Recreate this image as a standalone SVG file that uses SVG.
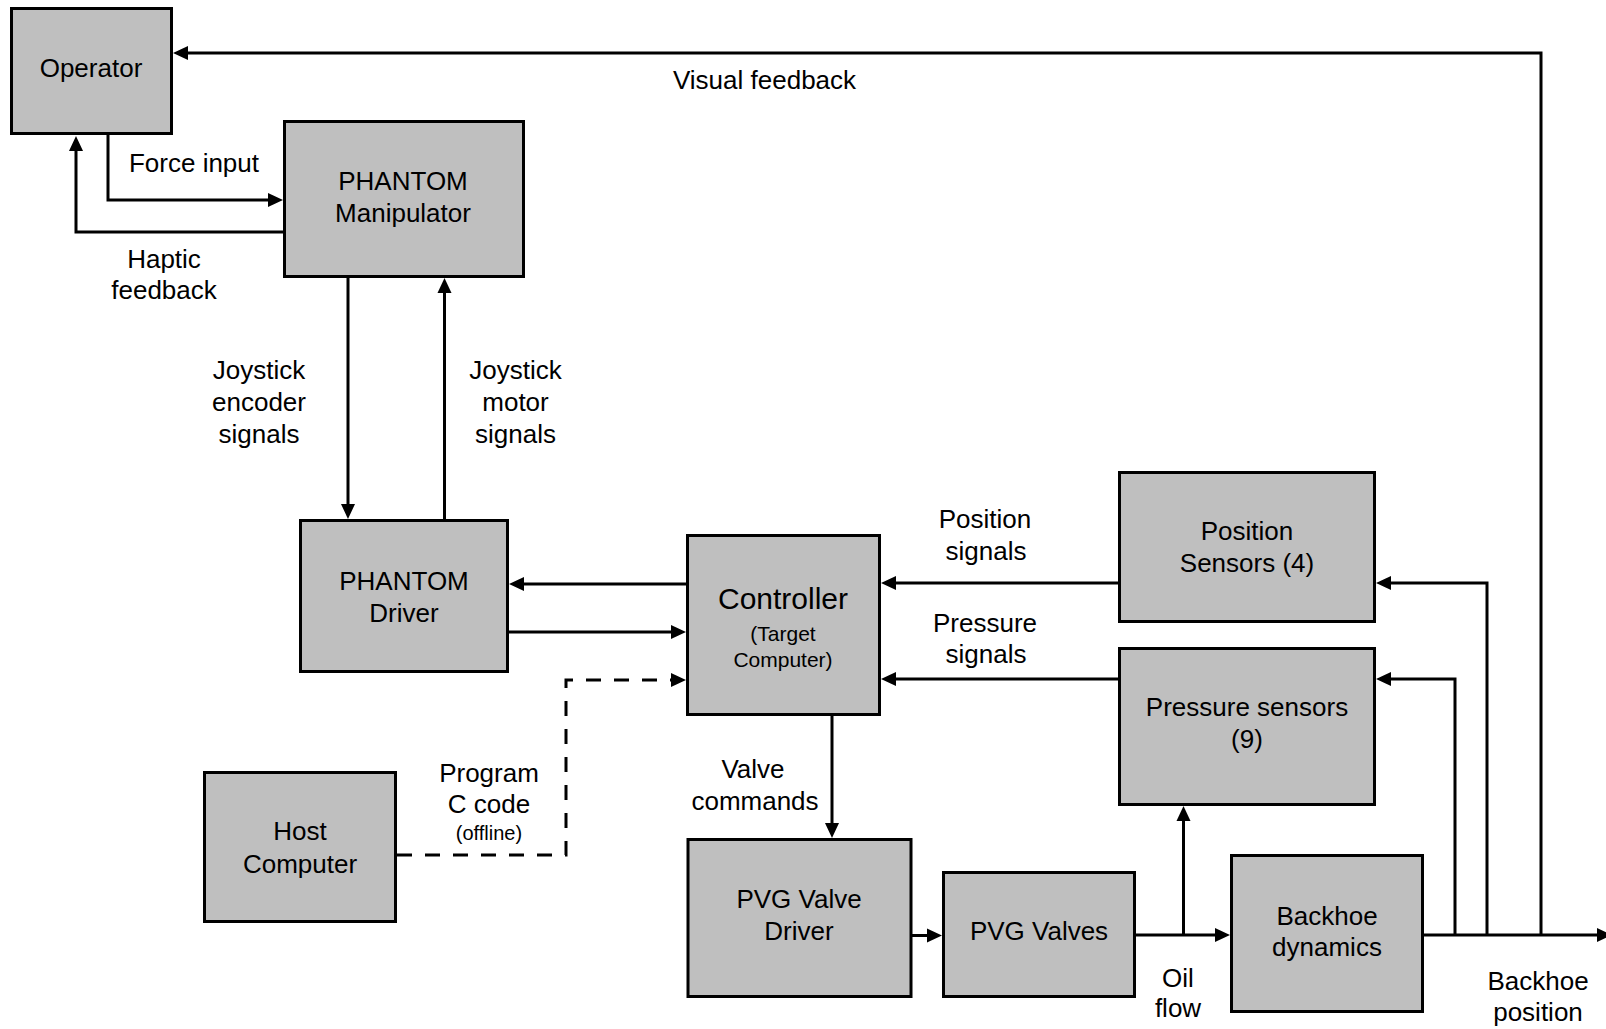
<svg xmlns="http://www.w3.org/2000/svg" width="1606" height="1029" viewBox="0 0 1606 1029">
<style>
  .box { fill: #bfbfbf; stroke: #000; stroke-width: 3; }
  .t { font-family: "Liberation Sans", Arial, sans-serif; font-size: 26px; fill: #000; text-anchor: middle; }
  .big { font-size: 30px; }
  .small { font-size: 21px; }
  .tiny { font-size: 20px; }
  .c { fill: none; stroke: #000; stroke-width: 3; marker-end: url(#arr); }
  .dash { stroke-dasharray: 15 13; }
</style>
<defs>
  <marker id="arr" markerUnits="userSpaceOnUse" markerWidth="16" markerHeight="15" refX="5" refY="7" orient="auto" overflow="visible">
    <path d="M0,0 L15,7 L0,14 z" fill="#000"/>
  </marker>
</defs>
<rect width="1606" height="1029" fill="#fff"/>

<g id="connectors">
  <!-- Visual feedback -->
  <path class="c" d="M1541,935 V53 H183"/>
  <!-- Backhoe position output -->
  <path class="c" d="M1424,935 H1602"/>
  <!-- feedback to position sensors -->
  <path class="c" d="M1487,935 V583 H1386"/>
  <!-- feedback to pressure sensors -->
  <path class="c" d="M1455,935 V679 H1386"/>
  <!-- Force input -->
  <path class="c" d="M108,135 V200 H273"/>
  <!-- Haptic feedback -->
  <path class="c" d="M283,232 H76 V146"/>
  <!-- Joystick encoder signals -->
  <path class="c" d="M348,278 V509"/>
  <!-- Joystick motor signals -->
  <path class="c" d="M444.5,519 V288"/>
  <!-- Controller to PHANTOM Driver -->
  <path class="c" d="M686,584 H519"/>
  <!-- PHANTOM Driver to Controller -->
  <path class="c" d="M509,632 H676"/>
  <!-- Program C code (dashed) -->
  <path class="c dash" d="M397,855 H566 V680 H676"/>
  <!-- Position signals -->
  <path class="c" d="M1118,583 H891"/>
  <!-- Pressure signals -->
  <path class="c" d="M1118,679 H891"/>
  <!-- Valve commands -->
  <path class="c" d="M832,716 V828"/>
  <!-- PVG Valve Driver to PVG Valves -->
  <path class="c" d="M912,935.5 H932"/>
  <!-- PVG Valves to Backhoe -->
  <path class="c" d="M1136,935 H1220"/>
  <!-- Oil flow to pressure sensors -->
  <path class="c" d="M1183.5,935 V816"/>
</g>

<g id="operator">
  <rect class="box" x="11.5" y="8.5" width="160" height="125"/>
  <text class="t" x="91" y="77">Operator</text>
</g>
<g id="phantom-manipulator">
  <rect class="box" x="284.5" y="121.5" width="239" height="155"/>
  <text class="t" x="403" y="190">PHANTOM</text>
  <text class="t" x="403" y="222">Manipulator</text>
</g>
<g id="phantom-driver">
  <rect class="box" x="300.5" y="520.5" width="207" height="151"/>
  <text class="t" x="404" y="590">PHANTOM</text>
  <text class="t" x="404" y="622">Driver</text>
</g>
<g id="controller">
  <rect class="box" x="687.5" y="535.5" width="192" height="179"/>
  <text class="t big" x="783" y="609">Controller</text>
  <text class="t small" x="783" y="641">(Target</text>
  <text class="t small" x="783" y="667">Computer)</text>
</g>
<g id="position-sensors">
  <rect class="box" x="1119.5" y="472.5" width="255" height="149"/>
  <text class="t" x="1247" y="540">Position</text>
  <text class="t" x="1247" y="572">Sensors (4)</text>
</g>
<g id="pressure-sensors">
  <rect class="box" x="1119.5" y="648.5" width="255" height="156"/>
  <text class="t" x="1247" y="716">Pressure sensors</text>
  <text class="t" x="1247" y="748">(9)</text>
</g>
<g id="host-computer">
  <rect class="box" x="204.5" y="772.5" width="191" height="149"/>
  <text class="t" x="300" y="840">Host</text>
  <text class="t" x="300" y="873">Computer</text>
</g>
<g id="pvg-valve-driver">
  <rect class="box" x="688" y="839.5" width="223" height="157"/>
  <text class="t" x="799" y="908">PVG Valve</text>
  <text class="t" x="799" y="940">Driver</text>
</g>
<g id="pvg-valves">
  <rect class="box" x="943.5" y="872.5" width="191" height="124"/>
  <text class="t" x="1039" y="940">PVG Valves</text>
</g>
<g id="backhoe-dynamics">
  <rect class="box" x="1231.5" y="855.5" width="191" height="156"/>
  <text class="t" x="1327" y="925">Backhoe</text>
  <text class="t" x="1327" y="956">dynamics</text>
</g>

<g id="labels">
  <text class="t" x="764.5" y="89">Visual feedback</text>
  <text class="t" x="194" y="172">Force input</text>
  <text class="t" x="164" y="268">Haptic</text>
  <text class="t" x="164" y="299">feedback</text>
  <text class="t" x="259" y="379">Joystick</text>
  <text class="t" x="259" y="411">encoder</text>
  <text class="t" x="259" y="443">signals</text>
  <text class="t" x="515.5" y="379">Joystick</text>
  <text class="t" x="515.5" y="411">motor</text>
  <text class="t" x="515.5" y="443">signals</text>
  <text class="t" x="985" y="528">Position</text>
  <text class="t" x="986" y="560">signals</text>
  <text class="t" x="985" y="632">Pressure</text>
  <text class="t" x="986" y="663">signals</text>
  <text class="t" x="753" y="778">Valve</text>
  <text class="t" x="755" y="810">commands</text>
  <text class="t" x="489" y="782">Program</text>
  <text class="t" x="489" y="813">C code</text>
  <text class="t tiny" x="489" y="840">(offline)</text>
  <text class="t" x="1178" y="987">Oil</text>
  <text class="t" x="1178" y="1017">flow</text>
  <text class="t" x="1538" y="990">Backhoe</text>
  <text class="t" x="1538" y="1021">position</text>
</g>
</svg>
